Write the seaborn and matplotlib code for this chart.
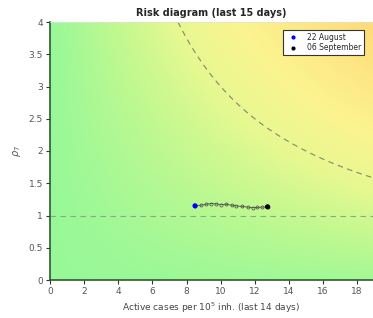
import numpy as np
import pandas as pd
import matplotlib
matplotlib.use("Agg")
import matplotlib.pyplot as plt
from matplotlib.colors import LinearSegmentedColormap
import seaborn as sns

# data: 15 daily points (active cases per 1e5 inh. last 14 days, rho_7)
cases = [8.5, 8.85, 9.15, 9.45, 9.75, 10.0, 10.3, 10.65, 10.9, 11.25, 11.6, 11.9, 12.15, 12.45, 12.75]
rho = [1.15, 1.16, 1.175, 1.185, 1.18, 1.17, 1.175, 1.16, 1.15, 1.14, 1.13, 1.12, 1.125, 1.13, 1.135]
start_label = "22 August"
end_label = "06 September"
risk_level = 30
xticks = [0, 2, 4, 6, 8, 10, 12, 14, 16, 18]
yticks = [0, 0.5, 1, 1.5, 2, 2.5, 3, 3.5, 4]
ytick_labels = ["0", "0.5", "1", "1.5", "2", "2.5", "3", "3.5", "4"]

sns.set_style("ticks")
plt.rcParams['font.family'] = ['DejaVu Sans']

fig = plt.figure(figsize=(3.73, 3.18), dpi=100)
ax = fig.add_axes([50/373, 38/318, 323/373, 258/318])

xmax, ymax = 18.93, 4.0
gx = np.linspace(0, xmax, 300)
gy = np.linspace(0, ymax, 200)
GX, GY = np.meshgrid(gx, gy)
V = GX * GY + 0.25 * GX
cmap = LinearSegmentedColormap.from_list(
    "risk", [(0.0, "#98f898"), (0.2, "#c0f890"), (0.4, "#e8f890"), (0.6, "#fbf490"), (1.0, "#ffdc7a")])
ax.imshow(V, extent=[0, xmax, 0, ymax], origin="lower", cmap=cmap, aspect="auto",
          vmin=0, vmax=78, zorder=0, interpolation="bilinear")

# risk contour x*y = const
cx = np.linspace(risk_level / ymax, xmax, 200)
ax.plot(cx, risk_level / cx, ls=(0, (5, 4)), color="#7d8a70", lw=0.8, zorder=1)
ax.axhline(1, ls=(0, (5, 4)), color="#88aa80", lw=0.8, zorder=1)

df = pd.DataFrame({"cases": cases, "rho": rho, "day": range(len(cases))})
sns.lineplot(data=df, x="cases", y="rho", sort=False, ax=ax, color="#555555", lw=0.6,
             marker="o", markersize=2.2, markerfacecolor="none", markeredgecolor="#444444",
             markeredgewidth=0.5, zorder=3)
ends = pd.DataFrame({"cases": [cases[0], cases[-1]], "rho": [rho[0], rho[-1]],
                     "label": [start_label, end_label]})
sns.scatterplot(data=ends, x="cases", y="rho", hue="label", palette=["#0000ff", "#000000"],
                s=14, linewidth=0, ax=ax, zorder=4)

ax.set_xlim(0, xmax)
ax.set_ylim(0, ymax)
ax.set_xticks(xticks)
ax.set_yticks(yticks)
ax.set_yticklabels(ytick_labels)
ax.tick_params(labelsize=6.5, labelcolor="#555555", length=3, width=0.8, color="#333333", pad=2)
ax.set_xlabel("Active cases per $10^5$ inh. (last 14 days)", fontsize=6.5, color="#444444", labelpad=3)
ax.set_ylabel(r"$\rho_7$", fontsize=7, color="#555555", labelpad=4)
ax.set_title("Risk diagram (last 15 days)", fontsize=7, fontweight="bold", pad=4)

for s in ["left", "bottom"]:
    ax.spines[s].set_color("#2d5a2d")
    ax.spines[s].set_linewidth(1.2)
ax.spines["top"].set_color("#e0e0e0")
ax.spines["top"].set_linewidth(0.5)
ax.spines["right"].set_visible(False)

leg = ax.legend(loc="upper right", fontsize=5.5, frameon=True, fancybox=False,
                edgecolor="#333333", framealpha=1, borderpad=0.4, handletextpad=0.8,
                labelspacing=0.2, markerscale=0.8, bbox_to_anchor=(0.985, 0.985))
leg.get_frame().set_linewidth(0.8)
leg.set_title(None)

fig.savefig("out.png", dpi=100)
